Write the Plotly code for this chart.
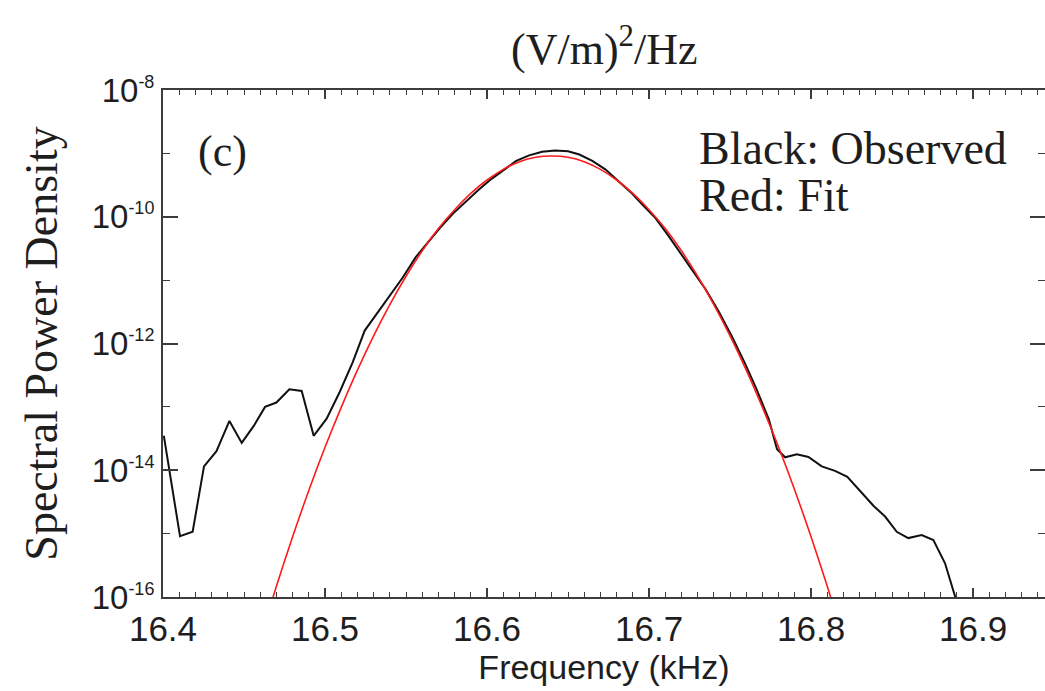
import plotly.graph_objects as go

# ---------------- data ----------------
obs_freq_khz = [16.4005, 16.4105, 16.4183, 16.4253, 16.4330, 16.4410, 16.4486, 16.4560,
                16.4630, 16.4700, 16.4780, 16.4856, 16.4930, 16.5010, 16.5090, 16.5170,
                16.5245, 16.5320, 16.5400, 16.5480, 16.5560, 16.5640, 16.5710, 16.5790,
                16.5870, 16.5950, 16.6030, 16.6110, 16.6180, 16.6260, 16.6340, 16.6420,
                16.6500, 16.6570, 16.6650, 16.6730, 16.6810, 16.6890, 16.6960, 16.7040,
                16.7120, 16.7200, 16.7270, 16.7350, 16.7430, 16.7510, 16.7590, 16.7660,
                16.7740, 16.7790, 16.7840, 16.7912, 16.7984, 16.8066, 16.8148, 16.8224,
                16.8302, 16.8385, 16.8457, 16.8529, 16.8600, 16.8683, 16.8755, 16.8827,
                16.8890, 16.8920]
obs_psd = [3.5e-14, 9.1e-16, 1.07e-15, 1.15e-14, 2.0e-14, 6.0e-14, 2.7e-14, 5.0e-14,
           1.0e-13, 1.17e-13, 1.9e-13, 1.78e-13, 3.5e-14, 6.5e-14, 1.7e-13, 5.0e-13,
           1.6e-12, 2.95e-12, 5.9e-12, 1.1e-11, 2.3e-11, 4.1e-11, 6.7e-11, 1.12e-10,
           1.75e-10, 2.7e-10, 4.0e-10, 5.7e-10, 7.6e-10, 9.3e-10, 1.06e-09, 1.11e-09,
           1.08e-09, 9.6e-10, 7.6e-10, 5.6e-10, 3.7e-10, 2.4e-10, 1.55e-10, 9.5e-11,
           5.0e-11, 2.6e-11, 1.4e-11, 7.1e-12, 3.2e-12, 1.32e-12, 5.0e-13, 2.0e-13,
           6.3e-14, 2.15e-14, 1.6e-14, 1.78e-14, 1.62e-14, 1.15e-14, 9.8e-15, 7.9e-15,
           4.7e-15, 2.75e-15, 1.86e-15, 1.07e-15, 8.5e-16, 9.5e-16, 7.9e-16, 3.4e-16,
           1.0e-16, 5.0e-17]

fit_freq_khz = [16.46, 16.47, 16.48, 16.49, 16.50, 16.51, 16.52, 16.53, 16.54, 16.55,
                16.56, 16.57, 16.58, 16.59, 16.60, 16.61, 16.62, 16.63, 16.64, 16.65,
                16.66, 16.67, 16.68, 16.69, 16.70, 16.71, 16.72, 16.73, 16.74, 16.75,
                16.76, 16.77, 16.78, 16.79, 16.80, 16.81, 16.82]
fit_psd = [2.24e-17, 1.48e-16, 8.9e-16, 4.8e-15, 2.3e-14, 9.8e-14, 3.8e-13, 1.32e-12,
           4.1e-12, 1.15e-11, 2.9e-11, 6.5e-11, 1.29e-10, 2.34e-10, 3.8e-10, 5.6e-10,
           7.4e-10, 8.7e-10, 9.1e-10, 8.7e-10, 7.4e-10, 5.6e-10, 3.8e-10, 2.34e-10,
           1.29e-10, 6.5e-11, 2.9e-11, 1.15e-11, 4.1e-12, 1.32e-12, 3.8e-13, 9.8e-14,
           2.3e-14, 4.8e-15, 8.9e-16, 1.48e-16, 2.24e-17]

x_tick_vals = [16.4, 16.5, 16.6, 16.7, 16.8, 16.9]
x_tick_text = ["16.4", "16.5", "16.6", "16.7", "16.8", "16.9"]
y_tick_vals = [1e-8, 1e-10, 1e-12, 1e-14, 1e-16]
y_tick_exps = ["-8", "-10", "-12", "-14", "-16"]
y_minor_vals = [1e-9, 1e-11, 1e-13, 1e-15]

# ---------------- figure ----------------
SANS = "Liberation Sans, Arial, sans-serif"
SERIF = "Liberation Serif, Times New Roman, serif"
TXT = "#1e1e1e"
AX = "#3c3c3c"

y_tick_text = ['10<sup><span style="font-size:18px">%s</span></sup>' % e for e in y_tick_exps]

fig = go.Figure()
fig.add_trace(go.Scatter(x=obs_freq_khz, y=obs_psd, mode="lines",
                         line=dict(color="#111111", width=2), name="Observed",
                         showlegend=False))
fig.add_trace(go.Scatter(x=fit_freq_khz, y=fit_psd, mode="lines",
                         line=dict(color="#ff1a1a", width=1.6, shape="spline", smoothing=0.8),
                         name="Fit", showlegend=False))

fig.update_layout(
    width=1045, height=691,
    margin=dict(l=163, r=0, t=90, b=94),
    paper_bgcolor="white", plot_bgcolor="white",
    showlegend=False,
    xaxis=dict(
        range=[16.4, 16.9444], showgrid=False, zeroline=False,
        showline=True, linecolor=AX, linewidth=2, mirror="ticks",
        ticks="inside", ticklen=9, tickwidth=1.5, tickcolor=AX,
        tickvals=x_tick_vals, ticktext=x_tick_text,
        tickfont=dict(family=SANS, size=35, color=TXT),
        minor=dict(dtick=0.01, ticks="inside", ticklen=5, tickwidth=1.2, tickcolor=AX),
        title=dict(text="Frequency (kHz)", font=dict(family=SANS, size=34, color=TXT), standoff=2),
        automargin=False,
    ),
    yaxis=dict(
        type="log", range=[-16, -8], showgrid=False, zeroline=False,
        showline=True, linecolor=AX, linewidth=2, mirror="ticks",
        ticks="inside", ticklen=15, tickwidth=1.5, tickcolor=AX,
        tickvals=y_tick_vals, ticktext=y_tick_text,
        tickfont=dict(family=SANS, size=33, color=TXT),
        minor=dict(tickvals=y_minor_vals, ticks="inside", ticklen=7, tickwidth=1.2, tickcolor=AX),
        title=dict(text="Spectral Power Density", font=dict(family=SERIF, size=46, color=TXT), standoff=20),
        automargin=False,
    ),
    annotations=[
        dict(text="(V/m)<sup>2</sup>/Hz", xref="paper", yref="paper", x=0.5, y=1.086,
             xanchor="center", yanchor="middle", showarrow=False,
             font=dict(family=SERIF, size=44, color=TXT)),
        dict(text="(c)", xref="paper", yref="paper", x=0.067, y=0.878,
             xanchor="center", yanchor="middle", showarrow=False,
             font=dict(family=SERIF, size=44, color=TXT)),
        dict(text="Black: Observed", xref="paper", yref="paper", x=0.6054, y=0.8856,
             xanchor="left", yanchor="middle", showarrow=False,
             font=dict(family=SERIF, size=46, color=TXT)),
        dict(text="Red: Fit", xref="paper", yref="paper", x=0.6054, y=0.791,
             xanchor="left", yanchor="middle", showarrow=False,
             font=dict(family=SERIF, size=46, color=TXT)),
    ],
)

fig.write_html("out.html")
